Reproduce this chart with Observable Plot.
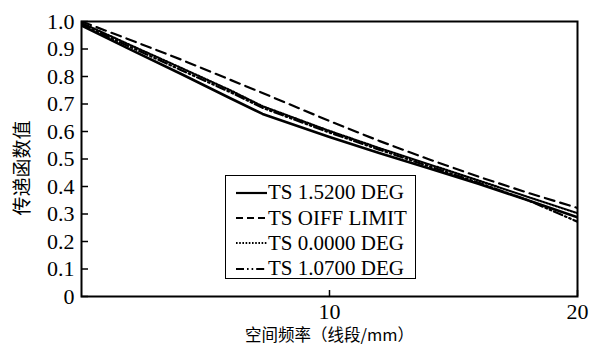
<!DOCTYPE html>
<html><head><meta charset="utf-8">
<script src="https://cdn.jsdelivr.net/npm/d3@7"></script>
<script src="https://cdn.jsdelivr.net/npm/@observablehq/plot@0.6"></script>
<style>
body{margin:0;background:#fff;}
#wrap{position:relative;width:590px;height:347px;font-family:"Liberation Serif","Times New Roman",serif;}
#legend{position:absolute;left:225px;top:175px;width:191px;height:104px;border:1.5px solid #000;background:#fff;box-sizing:border-box;padding-top:4px;}
.row{display:flex;align-items:center;height:25.4px;font-size:21px;line-height:1;color:#000;white-space:nowrap;}
.row svg{margin-left:10px;margin-right:1px;}
</style></head>
<body><div id="wrap"></div>
<script>
// spatial frequency (lp/mm)
const freq = [0, 2, 4, 6, 7.3, 10, 12, 14, 16, 18, 20];
const ts152 = [0.985, 0.897, 0.810, 0.721, 0.664, 0.580, 0.522, 0.466, 0.410, 0.350, 0.288];
const diffLimit = [1.0, 0.932, 0.862, 0.788, 0.740, 0.638, 0.566, 0.499, 0.436, 0.377, 0.322];
const ts000 = [0.995, 0.913, 0.832, 0.750, 0.692, 0.602, 0.540, 0.481, 0.422, 0.362, 0.303];
const ts107 = [0.990, 0.906, 0.824, 0.743, 0.686, 0.596, 0.534, 0.474, 0.414, 0.350, 0.272];
const seriesNames = ["TS 1.5200 DEG", "TS OIFF LIMIT", "TS 0.0000 DEG", "TS 1.0700 DEG"];
const seriesDash = ["none", "10,6", "1.6,1.6", "9,3,1.6,3,1.6,3"];
const legendDash = ["none", "7,4", "1.6,1.6", "8,3,1.6,3,1.6,3"];
const seriesWidth = [2.6, 2.2, 2.2, 2.2];
const xTicks = [10, 20];
const yTicks = [0, 0.1, 0.2, 0.3, 0.4, 0.5, 0.6, 0.7, 0.8, 0.9, 1.0];
const xLabel = "空间频率（线段/mm）";
const yLabel = "传递函数值";

const allValues = [ts152, diffLimit, ts000, ts107];
const rows = [];
allValues.forEach((vals, i) => vals.forEach((v, j) => rows.push({x: freq[j], y: v, s: i})));

const lineMarks = allValues.map((vals, i) =>
  Plot.line(rows.filter(d => d.s === i), {x: "x", y: "y", stroke: "#000", strokeWidth: seriesWidth[i],
    strokeDasharray: seriesDash[i], strokeLinejoin: "round", clip: true}));

const fmt = d => d === 0 ? "0" : d.toFixed(1);
const chart = Plot.plot({
  width: 590, height: 347,
  marginTop: 21, marginRight: 13, marginBottom: 51, marginLeft: 81,
  style: {fontFamily: '"Liberation Serif","Times New Roman",serif', color: "#000", background: "#fff"},
  x: {domain: [0, 20]},
  y: {domain: [0, 1]},
  marks: [
    ...lineMarks,
    Plot.axisY(yTicks, {tickSize: -7, tickPadding: 14, tickFormat: fmt, fontSize: 22, label: null, strokeWidth: 1.5}),
    Plot.axisX(xTicks, {tickSize: -6, tickPadding: 13, fontSize: 22, label: null, strokeWidth: 1.5}),
    Plot.text([yLabel], {frameAnchor: "left", textAnchor: "middle", lineAnchor: "middle", rotate: -90, dx: -59, dy: 9, fontSize: 19, fontFamily: '"Noto Sans CJK SC",sans-serif', text: d => d}),
    Plot.text([xLabel], {frameAnchor: "bottom", lineAnchor: "middle", dy: 39, fontSize: 16.5, fontFamily: '"Noto Sans CJK SC",sans-serif', text: d => d}),
    Plot.frame({stroke: "#000", strokeWidth: 2})
  ]
});
const wrap = document.getElementById("wrap");
wrap.appendChild(chart);

const legend = document.createElement("div");
legend.id = "legend";
seriesNames.forEach((name, i) => {
  const row = document.createElement("div");
  row.className = "row";
  row.innerHTML = `<svg width="31" height="6"><line x1="0" y1="3" x2="31" y2="3" stroke="#000" stroke-width="2.2" stroke-dasharray="${legendDash[i]}"/></svg><span>${name}</span>`;
  legend.appendChild(row);
});
wrap.appendChild(legend);
</script></body></html>
